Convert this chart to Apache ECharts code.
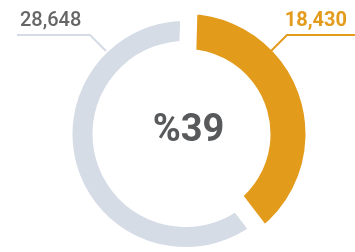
<!DOCTYPE html>
<html>
<head>
<meta charset="utf-8">
<script src="https://cdn.jsdelivr.net/npm/echarts@6/dist/echarts.min.js"></script>
<style>
  html, body { margin: 0; padding: 0; background: #fff; }
  #chart { width: 355px; height: 252px; }
</style>
</head>
<body>
<div id="chart"></div>
<script>
// --- data ---
const names = ['A', 'B'];
const values = [18430, 28648];
const colors = ['#E39B1C', '#D5DCE6'];

// ring geometry (border eats half its width on every side)
const center = [185.5, 134];
const gap = 17;
const ringOrange = [85 - gap / 2, 120 + gap / 2];
const ringGray = [93 - gap / 2, 113 + gap / 2];
const startAngle = 88.4;

const total = values.reduce((a, b) => a + b, 0);
const pct = Math.round(values[0] / total * 100);
const fmt = v => v.toLocaleString('en-US');

// label line geometry: elbow and horizontal end (start snaps to the ring)
const lineY = 35;
const labelGeo = [
    { start: [271, 51], elbow: [287, lineY], end: [355, lineY], textX: 347, align: 'right' },
    { start: [106, 51], elbow: [90, lineY], end: [17, lineY], textX: 20, align: 'left' }
];
const labelStyle = [
    { fontFamily: 'Roboto', fontSize: 20, fontWeight: 'bold', color: colors[0] },
    { fontFamily: 'Roboto', fontSize: 20, fontWeight: 500, color: '#666' }
];

// ring series: only one slice visible, the other is a transparent spacer
function ringData(idx) {
    return values.map((v, i) => ({
        value: v, name: names[i],
        itemStyle: i === idx
            ? { color: colors[i], borderColor: '#fff', borderWidth: gap }
            : { color: 'transparent', borderWidth: 0 }
    }));
}

// label series drawn on top so the white borders do not hide the lines
const labelData = values.map((v, i) => ({
    value: v, name: names[i],
    label: Object.assign({ show: true, formatter: fmt(v) }, labelStyle[i]),
    labelLine: { show: true, lineStyle: { color: colors[i], width: 2 } }
}));

const chart = echarts.init(document.getElementById('chart'));
chart.setOption({
    animation: false,
    graphic: [{
        type: 'text', x: 188.5, y: 131,
        style: {
            text: '%' + pct, align: 'center', verticalAlign: 'middle',
            font: 'bold 38px Roboto', fill: '#58595B'
        }
    }],
    series: [
        {
            type: 'pie', center: center, radius: ringGray, startAngle: startAngle,
            silent: true, label: { show: false }, labelLine: { show: false },
            data: ringData(1)
        },
        {
            type: 'pie', center: center, radius: ringOrange, startAngle: startAngle,
            silent: true, label: { show: false }, labelLine: { show: false },
            data: ringData(0)
        },
        {
            type: 'pie', z: 5, center: center, radius: [93, 114], startAngle: startAngle,
            silent: true, avoidLabelOverlap: false,
            itemStyle: { color: 'transparent', borderWidth: 0 },
            data: labelData,
            labelLayout: function (params) {
                const g = labelGeo[params.dataIndex];
                return {
                    x: g.textX, y: 20.5, align: g.align, verticalAlign: 'middle',
                    labelLinePoints: [g.start, g.elbow, g.end]
                };
            }
        }
    ]
});
</script>
</body>
</html>
